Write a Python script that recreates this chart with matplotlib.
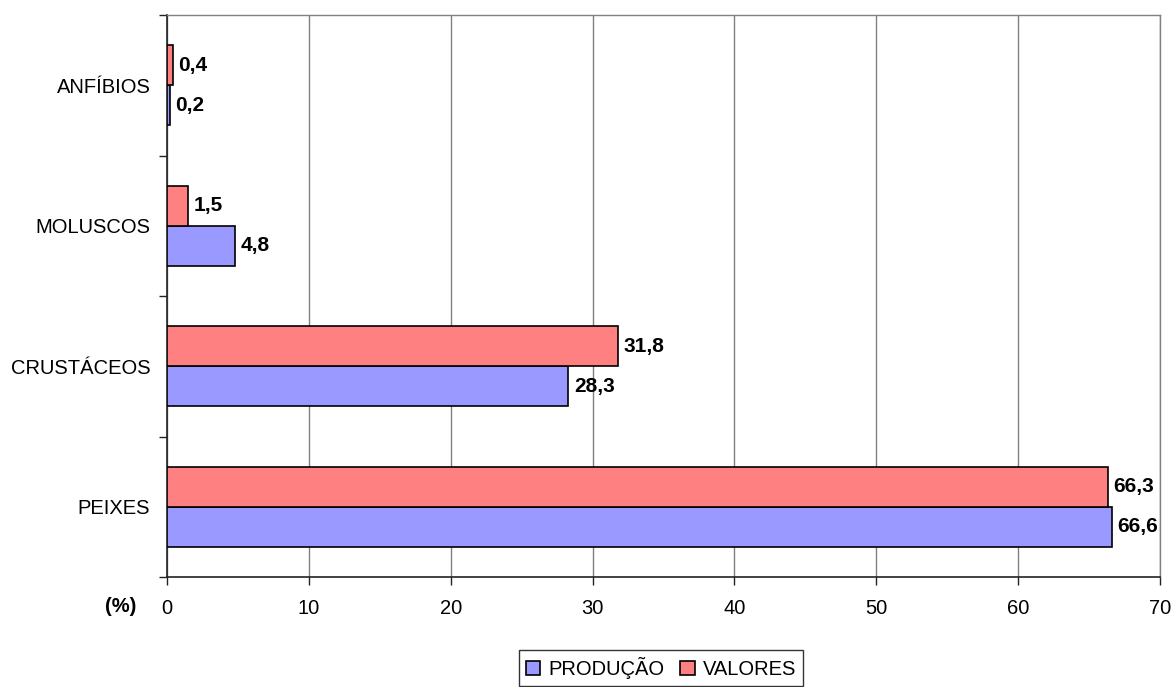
import matplotlib.pyplot as plt
import numpy as np
from matplotlib.ticker import FixedLocator

plt.rcParams['font.family'] = ['Liberation Sans', 'DejaVu Sans']

categorias = ["PEIXES", "CRUSTÁCEOS", "MOLUSCOS", "ANFÍBIOS"]
producao = [66.6, 28.3, 4.8, 0.2]
valores = [66.3, 31.8, 1.5, 0.4]
xticks = [0, 10, 20, 30, 40, 50, 60, 70]

fig = plt.figure(figsize=(11.74, 6.87), dpi=100)
ax = fig.add_axes([167/1174, 1 - 577/687, (1160-167)/1174, (577-15)/687])

y = np.arange(len(categorias))
h = 0.285
b_prod = ax.barh(y - h/2, producao, height=h, color="#9999FF", edgecolor="black",
                 linewidth=1.2, label="PRODUÇÃO", zorder=3)
b_val = ax.barh(y + h/2, valores, height=h, color="#FF8080", edgecolor="black",
                linewidth=1.2, label="VALORES", zorder=3)

for bars, vals in ((b_prod, producao), (b_val, valores)):
    for bar, v in zip(bars, vals):
        ax.annotate(f"{v:.1f}".replace(".", ","),
                    (bar.get_width(), bar.get_y() + bar.get_height()/2),
                    xytext=(4, 0), textcoords="offset points",
                    ha="left", va="center", fontsize=15, fontweight="bold")

ax.set_xlim(0, 70)
ax.set_ylim(-0.5, len(categorias) - 0.5)
ax.set_xticks(xticks)
ax.set_xticklabels([str(t) for t in xticks], fontsize=14.5)
ax.set_yticks(y)
ax.set_yticklabels(categorias, fontsize=14.5)
ax.yaxis.set_minor_locator(FixedLocator(np.arange(-0.5, len(categorias), 1.0)))
ax.tick_params(axis="y", which="major", length=0, pad=12)
ax.tick_params(axis="y", which="minor", length=6, width=1, color="#222222")
ax.tick_params(axis="x", which="major", length=6, width=1, color="#222222", pad=10)

ax.grid(axis="x", color="#808080", linewidth=1, zorder=0)
ax.set_axisbelow(True)
for s in ("top", "right"):
    ax.spines[s].set_color("#808080")
    ax.spines[s].set_linewidth(1)
for s in ("left", "bottom"):
    ax.spines[s].set_color("#222222")
    ax.spines[s].set_linewidth(1.2)

fig.text(121/1174, 1 - 606/687, "(%)", ha="center", va="center",
         fontsize=14.5, fontweight="bold")

leg = fig.legend(handles=[b_prod, b_val], loc="upper center",
                 bbox_to_anchor=(661/1174, 1 - 650/687), ncol=2, fontsize=14.5,
                 frameon=True, fancybox=False, edgecolor="black",
                 handlelength=0.7, handleheight=0.7, handletextpad=0.4,
                 columnspacing=0.8, borderpad=0.35, borderaxespad=0)
leg.get_frame().set_linewidth(1)

fig.savefig("out.png", dpi=100)
